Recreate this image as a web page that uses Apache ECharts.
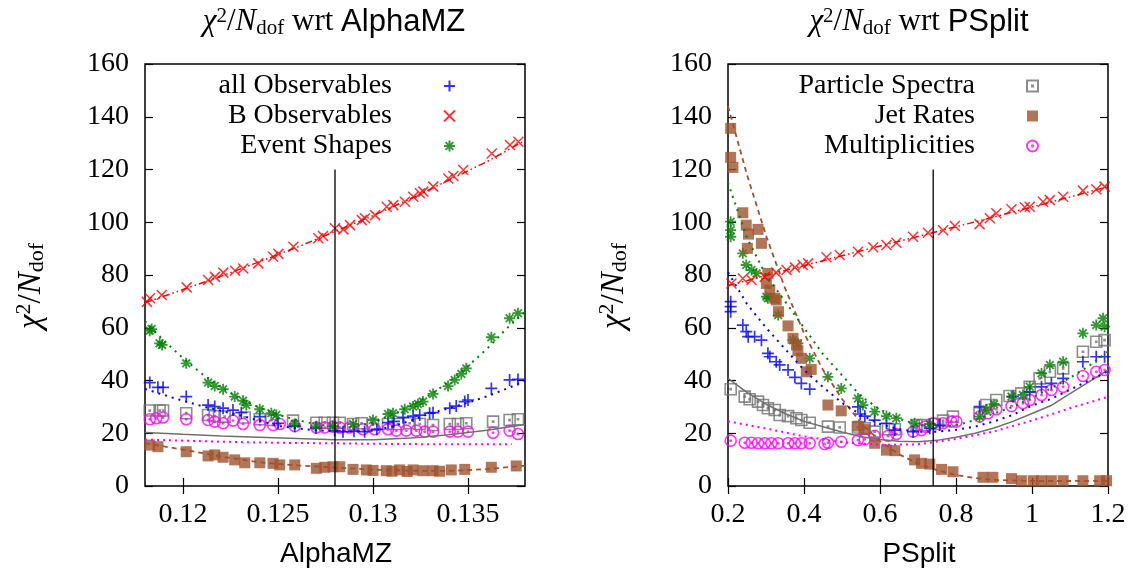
<!DOCTYPE html>
<html><head><meta charset="utf-8">
<script src="https://cdn.jsdelivr.net/npm/echarts@6/dist/echarts.min.js"></script>
<style>html,body{margin:0;padding:0;background:#fff}#c{width:1141px;height:580px}</style>
</head><body><div id="c"></div>
<script>
// ---------- tick labels / markers ----------
const alphaTicks = [0.12, 0.125, 0.13, 0.135];
const alphaVline = [[0.128, 0], [0.128, 120]];
const psplitVline = [[0.74, 0], [0.74, 120]];
const legendLeft = ['all Observables', 'B Observables', 'Event Shapes'];
const legendRight = ['Particle Spectra', 'Jet Rates', 'Multiplicities'];

// ---------- AlphaMZ panel: points ----------
const aAll = [[0.11825,39.2],[0.11868,37.4],[0.11895,37.4],[0.12017,33.9],[0.12132,30.7],[0.12167,30.1],[0.12211,29.5],[0.12263,28.8],[0.12307,27.8],[0.12404,26.3],[0.1250,23.8],[0.12588,22.7],[0.12700,22.0],[0.12798,21.0],[0.12842,20.6],[0.12900,20.8],[0.12956,20.6],[0.13020,21.5],[0.13079,24.0],[0.13110,24.5],[0.13158,26.0],[0.13211,26.5],[0.13246,26.9],[0.13298,27.6],[0.13316,27.8],[0.13404,29.5],[0.13438,30.3],[0.13483,32.0],[0.1350,32.6],[0.13623,37.0],[0.13719,40.2],[0.13763,40.4]];
const aB = [[0.11810,69.8],[0.11826,71.2],[0.11888,72.4],[0.12019,75.3],[0.12132,78.1],[0.12168,79.3],[0.12212,80.9],[0.12274,81.6],[0.12317,82.5],[0.12396,84.4],[0.12475,86.9],[0.12502,88.0],[0.12581,90.7],[0.12712,93.9],[0.12737,94.8],[0.1280,97.7],[0.12844,97.3],[0.12879,98.9],[0.12941,100.8],[0.12958,101.5],[0.13011,102.7],[0.13072,105.9],[0.13107,106.5],[0.13168,107.8],[0.13212,109.7],[0.13247,111.0],[0.13265,111.6],[0.13317,113.5],[0.13396,116.6],[0.13423,117.5],[0.13475,119.8],[0.13625,126.1],[0.13721,129.3],[0.13765,130.5]];
const aES = [[0.11825,58.9],[0.11835,59.5],[0.11877,54.1],[0.11890,53.5],[0.12017,46.5],[0.12132,39.2],[0.12167,37.9],[0.12211,36.7],[0.12272,33.9],[0.12316,32.3],[0.12333,30.7],[0.12404,29.1],[0.12465,27.6],[0.12491,26.9],[0.12588,23.5],[0.12702,22.7],[0.12789,22.7],[0.12895,23.5],[0.1300,25.0],[0.13079,27.3],[0.13105,27.6],[0.13167,29.1],[0.13211,30.1],[0.13237,31.1],[0.13263,32.0],[0.13316,34.9],[0.13395,37.9],[0.1343,40.2],[0.13465,42.5],[0.13491,44.6],[0.13623,56.4],[0.13719,63.6],[0.13763,65.5]];
const aPS = [[0.11825,28.6],[0.11877,28.6],[0.11895,28.6],[0.12017,27.6],[0.12132,26.9],[0.12167,26.5],[0.12219,26.3],[0.12325,26.0],[0.12404,25.3],[0.12465,25.0],[0.12579,24.8],[0.12702,24.0],[0.12746,24.0],[0.12789,24.0],[0.12825,24.0],[0.12895,23.5],[0.12940,23.8],[0.13000,23.3],[0.13079,23.5],[0.13132,23.5],[0.13193,23.8],[0.13246,23.5],[0.13316,23.1],[0.13404,23.5],[0.13447,23.5],[0.13491,23.8],[0.13632,24.4],[0.13719,25.0],[0.13763,25.3]];
const aJR = [[0.11825,15.5],[0.11868,14.9],[0.12017,13.0],[0.12132,11.4],[0.12167,11.8],[0.12211,10.9],[0.12272,9.9],[0.12325,8.8],[0.12404,8.8],[0.12474,8.6],[0.12509,8.0],[0.12588,8.0],[0.12702,6.7],[0.12746,7.1],[0.12789,7.3],[0.12825,7.3],[0.12895,6.3],[0.12965,6.1],[0.1300,5.9],[0.1307,5.8],[0.1310,5.6],[0.1314,6.1],[0.1318,5.5],[0.13211,6.1],[0.13263,5.8],[0.13316,5.8],[0.1335,5.6],[0.13412,6.1],[0.13483,6.3],[0.13623,7.1],[0.13754,7.6]];
const aMU = [[0.11825,25.3],[0.11859,25.7],[0.11895,26.0],[0.12017,25.3],[0.12132,25.0],[0.12167,24.4],[0.12211,23.8],[0.12263,24.8],[0.12316,23.5],[0.12404,23.1],[0.12474,23.1],[0.12509,23.5],[0.12588,22.7],[0.12702,22.2],[0.12746,22.2],[0.12789,22.5],[0.12825,22.2],[0.12877,22.2],[0.12947,21.5],[0.13009,21.5],[0.13079,21.5],[0.13123,21.0],[0.13175,21.0],[0.13228,21.0],[0.13272,20.6],[0.13316,20.6],[0.13404,20.6],[0.13447,20.6],[0.1350,20.6],[0.13632,20.2],[0.13719,21.0],[0.13763,19.7]];

// ---------- AlphaMZ panel: fitted curves ----------
const aFitAll = [[0.118,36.8],[0.119,34.5],[0.120,32.3],[0.121,30.3],[0.122,28.5],[0.123,26.8],[0.124,24.8],[0.125,22.8],[0.126,21.8],[0.127,21.1],[0.128,20.8],[0.129,20.6],[0.130,21.0],[0.131,22.5],[0.132,24.8],[0.133,27.5],[0.134,29.5],[0.135,31.6],[0.136,34.0],[0.137,36.8],[0.138,39.8]];
const aFitB = [[0.118,69.5],[0.120,74.5],[0.122,79.5],[0.124,85.0],[0.126,90.5],[0.128,96.5],[0.130,102.5],[0.132,109.0],[0.134,116.0],[0.136,123.0],[0.138,131.0]];
const aFitES = [[0.118,62.5],[0.119,55.0],[0.120,48.5],[0.121,42.5],[0.122,37.5],[0.123,33.2],[0.124,29.8],[0.125,27.0],[0.126,25.0],[0.127,23.4],[0.128,22.6],[0.129,22.6],[0.130,24.0],[0.131,27.0],[0.132,30.5],[0.133,34.5],[0.134,39.5],[0.135,45.5],[0.136,52.0],[0.137,59.5],[0.138,66.0]];
const aFitPS = [[0.118,20.3],[0.120,19.6],[0.122,19.0],[0.124,18.5],[0.126,18.0],[0.128,17.5],[0.130,17.5],[0.132,18.2],[0.134,19.4],[0.136,21.1],[0.138,23.3]];
const aFitJR = [[0.118,16.2],[0.120,13.8],[0.122,11.2],[0.124,9.0],[0.126,7.8],[0.128,7.0],[0.130,6.2],[0.132,5.8],[0.134,5.7],[0.136,6.4],[0.138,7.7]];
const aFitMU = [[0.118,17.6],[0.120,17.2],[0.122,16.8],[0.124,16.5],[0.126,16.3],[0.128,16.2],[0.130,16.0],[0.132,15.9],[0.134,15.8],[0.136,15.8],[0.1373,15.8]];

// ---------- PSplit panel: points ----------
const pAll = [[0.207,69.9],[0.207,68.0],[0.207,66.1],[0.239,61.0],[0.248,58.5],[0.253,56.6],[0.270,56.6],[0.288,55.3],[0.305,50.3],[0.310,49.0],[0.327,47.1],[0.336,45.9],[0.358,44.0],[0.376,41.2],[0.393,38.9],[0.415,36.7],[0.542,30.0],[0.548,27.3],[0.560,26.5],[0.586,25.0],[0.617,23.8],[0.639,21.2],[0.687,20.6],[0.731,21.9],[0.757,23.1],[0.862,30.1],[0.950,33.9],[0.994,35.7],[1.025,37.6],[1.051,38.9],[1.082,40.8],[1.134,47.1],[1.169,49.0],[1.191,49.0]];
const pB = [[0.209,76.8],[0.239,78.7],[0.262,78.1],[0.297,79.3],[0.327,80.9],[0.354,81.9],[0.376,82.9],[0.397,83.8],[0.411,84.4],[0.459,86.7],[0.494,87.6],[0.542,88.8],[0.582,90.5],[0.617,91.4],[0.643,92.2],[0.687,94.5],[0.726,96.0],[0.766,97.0],[0.797,98.6],[0.862,99.3],[0.889,101.5],[0.906,103.4],[0.946,104.9],[0.981,105.7],[0.994,105.9],[1.029,107.8],[1.047,108.4],[1.082,109.7],[1.134,112.0],[1.169,112.5],[1.191,113.5]];
const pES = [[0.207,100.2],[0.207,97.0],[0.207,94.5],[0.239,88.2],[0.248,83.8],[0.262,81.9],[0.275,80.6],[0.301,71.8],[0.305,71.2],[0.332,64.8],[0.371,55.3],[0.384,54.1],[0.415,48.4],[0.463,41.4],[0.498,37.0],[0.542,33.2],[0.555,30.7],[0.586,28.2],[0.617,26.5],[0.643,25.7],[0.691,23.8],[0.731,23.5],[0.862,26.3],[0.880,29.0],[0.900,31.0],[0.946,33.9],[0.976,34.5],[0.994,37.6],[1.025,42.7],[1.047,45.9],[1.082,47.1],[1.134,57.9],[1.169,61.0],[1.187,63.6],[1.191,60.4]];
const pPS = [[0.207,36.7],[0.244,33.9],[0.257,32.9],[0.279,32.0],[0.292,30.7],[0.305,29.5],[0.323,28.8],[0.336,26.9],[0.358,26.5],[0.380,25.7],[0.393,25.0],[0.415,24.0],[0.463,22.5],[0.494,22.2],[0.542,22.2],[0.560,21.9],[0.586,20.6],[0.621,21.5],[0.639,21.5],[0.696,23.1],[0.718,23.1],[0.744,23.5],[0.766,24.8],[0.792,26.3],[0.862,27.6],[0.880,30.7],[0.906,32.6],[0.941,34.1],[0.972,35.1],[0.994,37.6],[1.020,40.8],[1.047,43.3],[1.082,44.6],[1.134,50.9],[1.169,54.7],[1.191,55.3]];
const pJR = [[0.207,135.6],[0.207,124.6],[0.213,120.8],[0.239,103.6],[0.248,98.9],[0.254,95.5],[0.279,97.3],[0.288,92.0],[0.251,90.1],[0.305,80.6],[0.301,76.8],[0.310,74.3],[0.323,71.2],[0.327,70.5],[0.333,66.1],[0.358,60.7],[0.371,56.0],[0.380,53.5],[0.384,51.3],[0.393,48.4],[0.406,43.3],[0.419,44.2],[0.463,30.7],[0.498,28.5],[0.542,22.7],[0.560,21.5],[0.586,16.2],[0.617,13.6],[0.639,13.4],[0.691,9.9],[0.709,8.6],[0.731,8.3],[0.762,6.3],[0.792,5.4],[0.871,3.3],[0.897,3.3],[0.946,2.8],[0.972,2.0],[1.003,2.0],[1.025,2.0],[1.051,2.0],[1.082,2.0],[1.134,2.0],[1.178,2.0],[1.196,2.0]];
const pMU = [[0.207,17.2],[0.244,16.4],[0.262,16.4],[0.279,16.2],[0.297,16.2],[0.314,16.2],[0.332,16.2],[0.358,16.2],[0.376,16.2],[0.393,16.2],[0.415,16.2],[0.454,15.9],[0.463,16.4],[0.498,16.8],[0.542,17.4],[0.560,17.7],[0.586,19.0],[0.621,19.0],[0.643,19.7],[0.687,20.6],[0.709,21.2],[0.718,22.5],[0.740,23.8],[0.766,23.8],[0.788,24.4],[0.801,24.4],[0.862,26.3],[0.884,27.6],[0.906,29.1],[0.946,30.3],[0.976,31.4],[0.994,32.6],[1.025,34.5],[1.051,36.4],[1.082,37.6],[1.134,41.7],[1.169,43.3],[1.191,44.0]];

// ---------- PSplit panel: fitted curves ----------
const pFitAll = [[0.2,81],[0.25,69],[0.3,60],[0.35,52],[0.4,44],[0.45,37.5],[0.5,31.5],[0.55,27],[0.6,23.5],[0.65,21.5],[0.7,20.6],[0.75,20.6],[0.8,21.3],[0.85,22.5],[0.9,24.5],[0.95,27],[1.0,30.5],[1.05,33],[1.1,36.5],[1.15,40],[1.2,43.5]];
const pFitB = [[0.2,76],[0.3,79.8],[0.4,83.6],[0.5,87.3],[0.6,91],[0.7,94.6],[0.8,98.3],[0.9,102],[1.0,105.8],[1.1,109.6],[1.2,113.5]];
const pFitES = [[0.2,115],[0.25,94],[0.3,80],[0.35,70],[0.4,60],[0.45,50],[0.5,42],[0.55,34],[0.6,29],[0.65,25.5],[0.7,23.2],[0.75,22.3],[0.8,23],[0.85,25],[0.9,27.5],[0.95,30],[1.0,33.5],[1.05,37],[1.1,41],[1.15,45.5],[1.2,51]];
const pFitPS = [[0.2,40.8],[0.25,35.5],[0.3,31],[0.35,27.5],[0.4,24.5],[0.45,22.5],[0.5,20.5],[0.55,18.7],[0.6,17.6],[0.65,17],[0.7,16.8],[0.75,17.3],[0.8,18.5],[0.85,20],[0.9,22],[0.95,24.5],[1.0,27.5],[1.05,30.5],[1.1,35],[1.15,39.5],[1.2,44]];
const pFitJR = [[0.2,144],[0.25,118],[0.3,95],[0.35,75],[0.4,58],[0.45,44],[0.5,33],[0.55,24],[0.6,17],[0.65,12],[0.7,8.5],[0.75,6],[0.8,4.2],[0.85,3],[0.9,2.3],[1.0,1.9],[1.1,1.9],[1.2,2.0]];
const pFitMU = [[0.2,24.5],[0.3,21.8],[0.4,18.8],[0.5,16.6],[0.6,15.6],[0.7,15.8],[0.8,17.8],[0.9,20.7],[1.0,24.8],[1.1,29.5],[1.2,33.8]];

// ---------- styling ----------
const SERIF = "'Liberation Serif', 'DejaVu Serif', serif";
const SANS = "'Liberation Sans', Arial, sans-serif";
const SYM = {
  plus: 'path://M0,5H10M5,0V10',
  cross: 'path://M0,0L10,10M10,0L0,10',
  star: 'path://M0,5H10M5,0V10M1.5,1.5L8.5,8.5M8.5,1.5L1.5,8.5',
  boxdot: 'path://M0,0H10V10H0ZM4.5,4.5H5.5V5.5H4.5Z',
  circdot: 'path://M0,5A5,5,0,1,1,10,5A5,5,0,1,1,0,5ZM4.4,5A0.6,0.6,0,1,1,5.6,5A0.6,0.6,0,1,1,4.4,5Z'
};
const STY = {
  'all Observables': {symbol: SYM.plus, size: 12, color: '#0000ff', width: 1.7, line: [2, 5], lw: 2},
  'B Observables': {symbol: SYM.cross, size: 10, color: '#ff0000', width: 1.5, line: [7, 3, 1.5, 3, 1.5, 3], lw: 1.5},
  'Event Shapes': {symbol: SYM.star, size: 11, color: '#008000', width: 1.8, line: [2, 5], lw: 2},
  'Particle Spectra': {symbol: SYM.boxdot, size: 11, color: '#707070', width: 1.6, line: null, lw: 1.5},
  'Jet Rates': {symbol: 'rect', size: 11, color: '#a0522d', width: 0, line: [5, 4], lw: 1.8},
  'Multiplicities': {symbol: SYM.circdot, size: 11, color: '#ff00ff', width: 1.6, line: [2, 4], lw: 2}
};

function scatter(name, data, xi, yi) {
  const s = STY[name];
  const filled = s.symbol === 'rect';
  return {
    type: 'scatter', name: name, data: data, xAxisIndex: xi, yAxisIndex: yi,
    symbol: s.symbol, symbolSize: s.size, silent: true, emphasis: {disabled: true},
    itemStyle: filled ? {color: s.color} : {color: 'transparent', borderColor: s.color, borderWidth: s.width}
  };
}
function fit(name, data, xi, yi) {
  const s = STY[name];
  return {
    type: 'line', name: name + ' fit', data: data, xAxisIndex: xi, yAxisIndex: yi,
    showSymbol: false, symbol: 'none', silent: true, emphasis: {disabled: true},
    lineStyle: {color: s.color, width: s.lw, type: s.line || 'solid'}
  };
}
function vline(data, xi, yi) {
  return {type: 'line', name: 'ref', data: data, xAxisIndex: xi, yAxisIndex: yi, showSymbol: false,
    symbol: 'none', silent: true, lineStyle: {color: '#000', width: 1.3}};
}

const tickStyle = {show: true, inside: true, length: 8, lineStyle: {color: '#000', width: 1.2}};
const labelStyle = {fontFamily: SERIF, fontSize: 28, color: '#000'};

function xAx(grid, pos, extra, showLabel) {
  return Object.assign({
    type: 'value', gridIndex: grid, position: pos,
    axisLine: {show: false}, splitLine: {show: false},
    axisTick: Object.assign({}, tickStyle),
    axisLabel: Object.assign({show: showLabel, margin: 15}, labelStyle)
  }, extra);
}
function yAx(grid, pos, showLabel) {
  return {
    type: 'value', gridIndex: grid, position: pos, min: 0, max: 160, interval: 20,
    axisLine: {show: false}, splitLine: {show: false},
    axisTick: Object.assign({}, tickStyle),
    axisLabel: Object.assign({show: showLabel, margin: 16}, labelStyle)
  };
}
const fmtAlpha = v => String(+(+v).toFixed(4));

function richSet(fs) {
  const small = Math.round(fs * 0.68);
  return {
    i: {fontFamily: SERIF, fontStyle: 'italic', fontSize: fs, lineHeight: fs + 2, color: '#000'},
    r: {fontFamily: SERIF, fontSize: fs, lineHeight: fs + 2, color: '#000'},
    sup: {fontFamily: SERIF, fontSize: small, lineHeight: Math.round(fs * 0.5), verticalAlign: 'top', color: '#000'},
    sub: {fontFamily: SERIF, fontSize: small, lineHeight: Math.round(fs * 0.55), verticalAlign: 'bottom', color: '#000'},
    s: {fontFamily: SANS, fontSize: fs, lineHeight: fs + 2, color: '#000'}
  };
}
const RICH_TITLE = richSet(31);
const RICH_YNAME = richSet(33);
const chiLabel = '{i|χ}{sup|2}{r|/}{i|N}{sub|dof}';

function legendCfg(names, right) {
  return {
    data: names, orient: 'vertical', align: 'right', right: right, top: 71, padding: 0,
    itemGap: 0, itemWidth: 11, itemHeight: 11, selectedMode: false,
    formatter: n => '{t|' + n + '}{g|}',
    textStyle: {fontFamily: SERIF, fontSize: 28, color: '#000', lineHeight: 30,
      rich: {t: {fontFamily: SERIF, fontSize: 28, lineHeight: 30, color: '#000'}, g: {width: 47}}}
  };
}

const series = [
  fit('Particle Spectra', aFitPS, 0, 0), fit('Multiplicities', aFitMU, 0, 0), fit('Jet Rates', aFitJR, 0, 0),
  fit('all Observables', aFitAll, 0, 0), fit('Event Shapes', aFitES, 0, 0), fit('B Observables', aFitB, 0, 0),
  vline(alphaVline, 0, 0),
  scatter('Particle Spectra', aPS, 0, 0), scatter('Multiplicities', aMU, 0, 0), scatter('all Observables', aAll, 0, 0),
  scatter('Event Shapes', aES, 0, 0), scatter('Jet Rates', aJR, 0, 0), scatter('B Observables', aB, 0, 0),

  fit('Particle Spectra', pFitPS, 2, 2), fit('Multiplicities', pFitMU, 2, 2), fit('Jet Rates', pFitJR, 2, 2),
  fit('all Observables', pFitAll, 2, 2), fit('Event Shapes', pFitES, 2, 2), fit('B Observables', pFitB, 2, 2),
  vline(psplitVline, 2, 2),
  scatter('Particle Spectra', pPS, 2, 2), scatter('Multiplicities', pMU, 2, 2), scatter('all Observables', pAll, 2, 2),
  scatter('Event Shapes', pES, 2, 2), scatter('Jet Rates', pJR, 2, 2), scatter('B Observables', pB, 2, 2)
];

const option = {
  animation: false,
  backgroundColor: '#fff',
  grid: [
    {left: 145, top: 64, width: 380, height: 422, show: true, borderColor: '#000', borderWidth: 1.5, backgroundColor: 'transparent', outerBoundsMode: 'none'},
    {left: 728, top: 64, width: 380, height: 422, show: true, borderColor: '#000', borderWidth: 1.5, backgroundColor: 'transparent', outerBoundsMode: 'none'}
  ],
  xAxis: [
    xAx(0, 'bottom', {min: 0.118, max: 0.138,
      axisTick: Object.assign({customValues: alphaTicks}, tickStyle),
      axisLabel: Object.assign({show: true, margin: 15, customValues: alphaTicks, formatter: fmtAlpha}, labelStyle)}, true),
    xAx(0, 'top', {min: 0.118, max: 0.138,
      axisTick: Object.assign({customValues: alphaTicks}, tickStyle),
      axisLabel: {show: false}}, false),
    xAx(1, 'bottom', {min: 0.2, max: 1.2, interval: 0.2}, true),
    xAx(1, 'top', {min: 0.2, max: 1.2, interval: 0.2}, false)
  ],
  yAxis: [yAx(0, 'left', true), yAx(0, 'right', false), yAx(1, 'left', true), yAx(1, 'right', false)],
  legend: [legendCfg(legendLeft, 685), legendCfg(legendRight, 102)],
  graphic: [
    {type: 'text', x: 334, y: 22, silent: true, style: {text: chiLabel + '{r| wrt }{s|AlphaMZ}', rich: RICH_TITLE, align: 'center', verticalAlign: 'middle'}},
    {type: 'text', x: 919, y: 22, silent: true, style: {text: chiLabel + '{r| wrt }{s|PSplit}', rich: RICH_TITLE, align: 'center', verticalAlign: 'middle'}},
    {type: 'text', x: 31, y: 286, rotation: Math.PI / 2, silent: true, style: {text: chiLabel, rich: RICH_YNAME, align: 'center', verticalAlign: 'middle'}},
    {type: 'text', x: 614, y: 286, rotation: Math.PI / 2, silent: true, style: {text: chiLabel, rich: RICH_YNAME, align: 'center', verticalAlign: 'middle'}},
    {type: 'text', x: 336, y: 554, silent: true, style: {text: 'AlphaMZ', fontFamily: SANS, fontSize: 28, fill: '#000', align: 'center', verticalAlign: 'middle'}},
    {type: 'text', x: 919, y: 554, silent: true, style: {text: 'PSplit', fontFamily: SANS, fontSize: 28, fill: '#000', align: 'center', verticalAlign: 'middle'}}
  ],
  series: series
};

const chart = echarts.init(document.getElementById('c'), null, {renderer: 'canvas'});
chart.setOption(option);
</script></body></html>
